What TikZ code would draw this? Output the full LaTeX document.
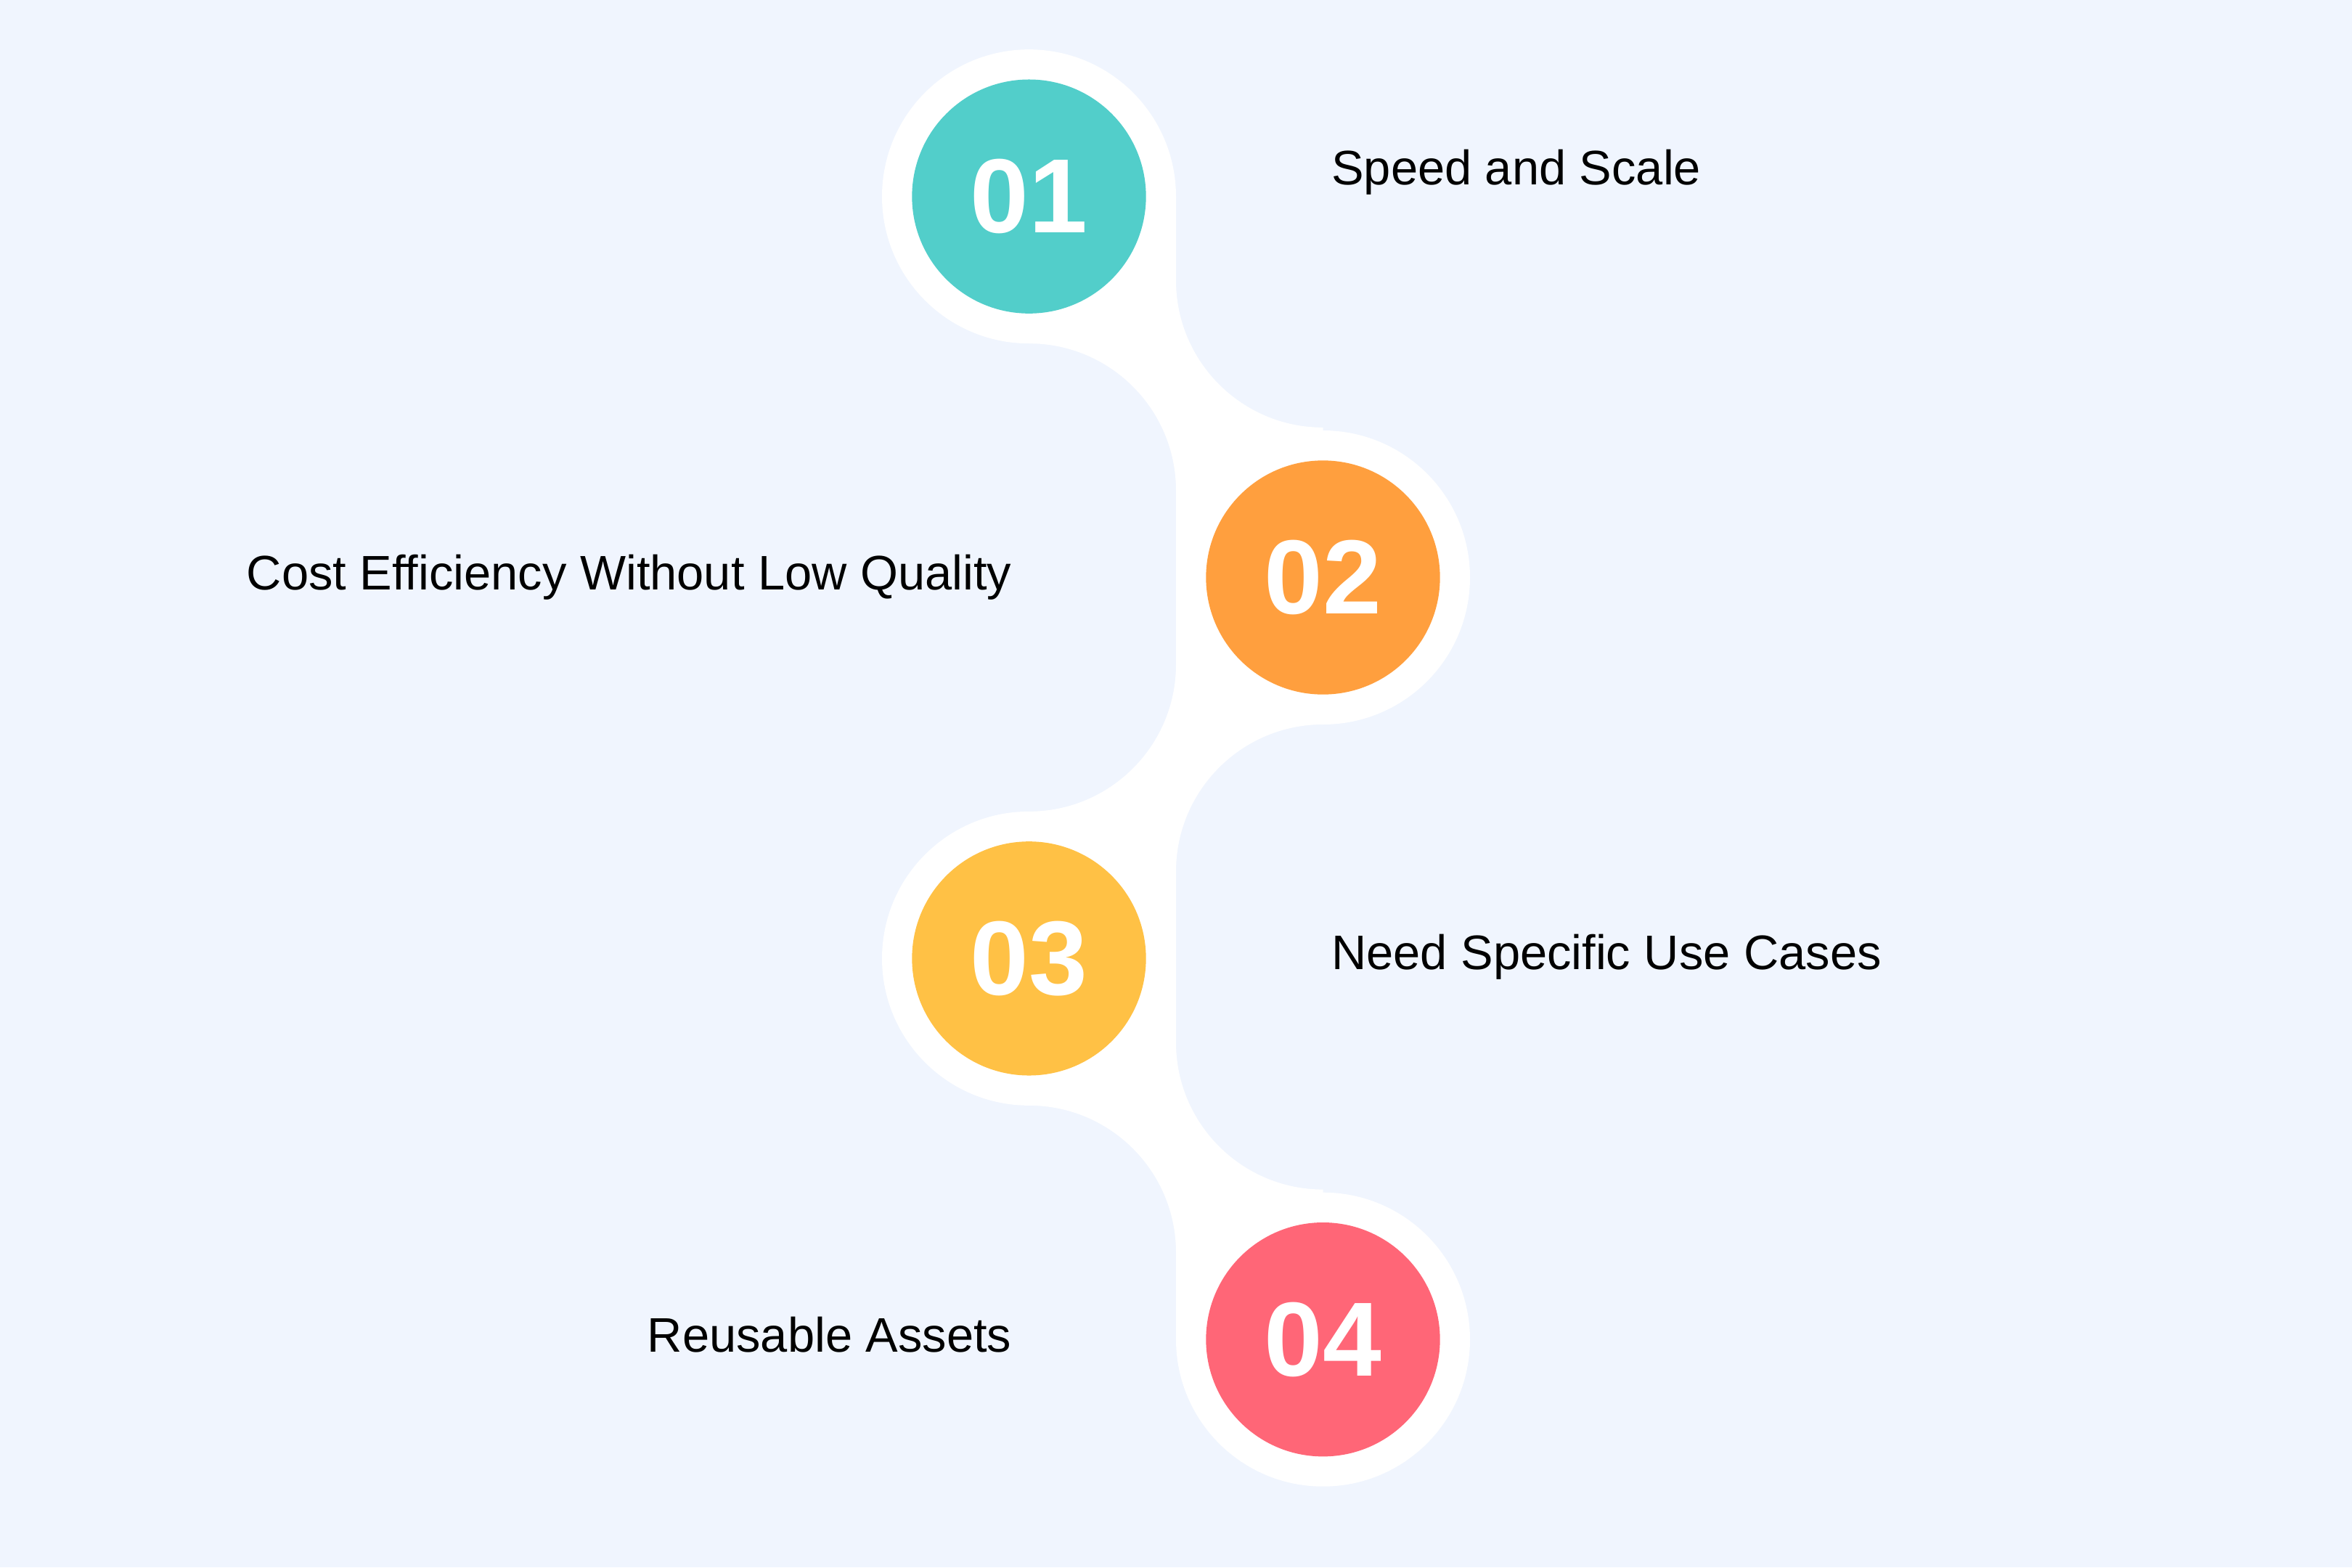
\documentclass[tikz,border=0pt]{standalone}
\usepackage{fontspec}
\setmainfont{Liberation Sans}
\begin{document}
\begin{tikzpicture}[x=0.1mm,y=-0.1mm,
  num/.style={circle,minimum size=156\pgflinewidth,inner sep=0,text=white,font=\fontsize{20}{24}\selectfont\bfseries},
  lab/.style={font=\fontsize{9.2}{11}\selectfont,inner sep=0}]
\definecolor{bg}{HTML}{F0F5FE}
\definecolor{cA}{HTML}{52CECA}
\definecolor{cB}{HTML}{FF9F3E}
\definecolor{cC}{HTML}{FFC145}
\definecolor{cD}{HTML}{FF6677}
\fill[bg] (0,0) rectangle (1568,1045);
\useasboundingbox (0,0) rectangle (1568,1045);
% connectors
\foreach \ya/\xa/\xb/\s in {131/686/882/1, 385/882/686/-1, 639/686/882/1}{
  \pgfmathsetmacro\yb{\ya+254}
  \pgfmathsetmacro\xm{(\xa+\xb)/2}
  \fill[white] (\xa,\ya) -- (\xm+\s*-0,\ya) -- cycle;
}
\fill[white] (686,131) -- (784,131) -- (784,187) arc[start angle=180,end angle=90,radius=98] -- (882,385) -- (784,385) -- (784,327) arc[start angle=0,end angle=-90,radius=98] -- cycle;
\fill[white] (882,385) -- (784,385) -- (784,443) arc[start angle=0,end angle=90,radius=98] -- (686,639) -- (784,639) -- (784,581) arc[start angle=180,end angle=270,radius=98] -- cycle;
\fill[white] (686,639) -- (784,639) -- (784,695) arc[start angle=180,end angle=90,radius=98] -- (882,893) -- (784,893) -- (784,835) arc[start angle=0,end angle=-90,radius=98] -- cycle;
% circles
\foreach \n/\x/\y/\c in {1/686/131/cA,2/882/385/cB,3/686/639/cC,4/882/893/cD}{
  \fill[white] (\x,\y) circle[radius=98];
  \fill[\c] (\x,\y) circle[radius=78];
  \node[text=white,font=\fontsize{20}{24}\selectfont\bfseries] (n\n) at (\x,\y) {0\n};
}
\node[lab,anchor=west] (t1) at (887,115) {Speed and Scale};
\node[lab,anchor=east] (t2) at (675,385) {Cost Efficiency Without Low Quality};
\node[lab,anchor=west] (t3) at (887,638) {Need Specific Use Cases};
\node[lab,anchor=east] (t4) at (675,890) {Reusable Assets};
\end{tikzpicture}
\end{document}
